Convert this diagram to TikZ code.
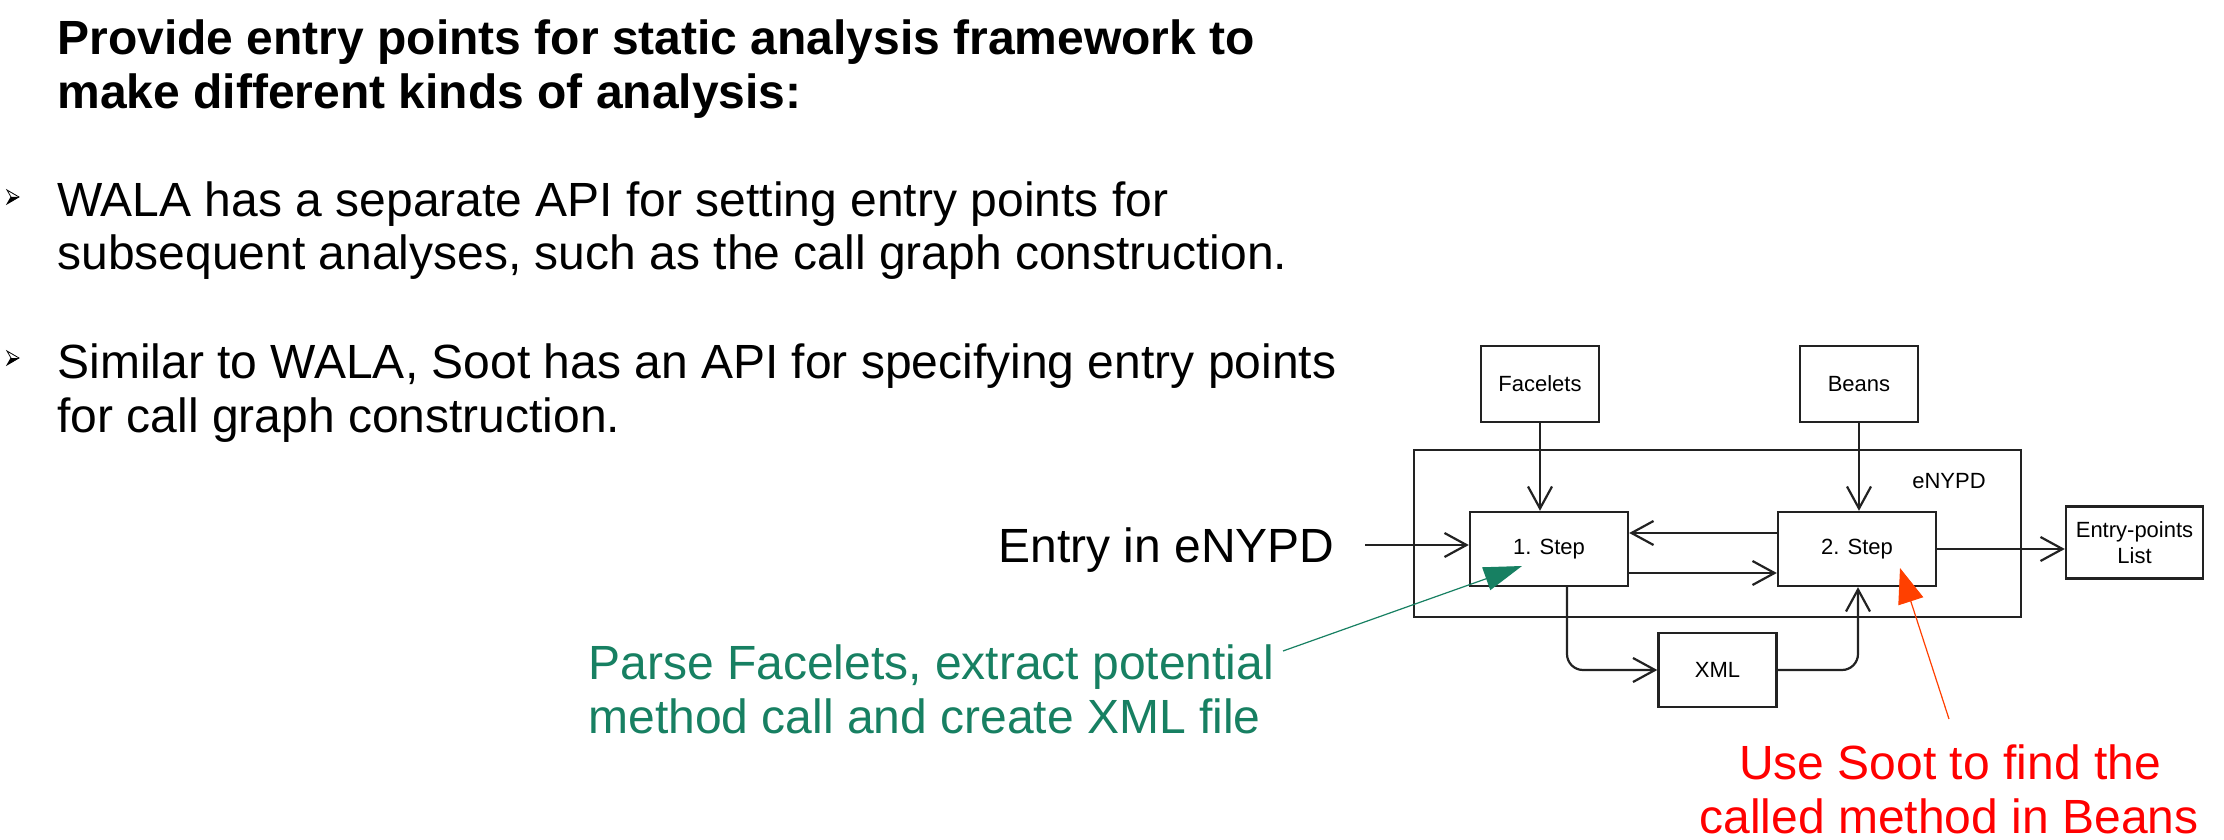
\documentclass[tikz,border=0pt]{standalone}
\usepackage{fontspec}
\setmainfont{Liberation Sans}
\usetikzlibrary{arrows.meta,calc}
\definecolor{grn}{RGB}{23,128,98}
\definecolor{redtxt}{RGB}{255,0,0}
\definecolor{redarr}{RGB}{255,64,0}
\definecolor{ln}{RGB}{34,34,34}
\begin{document}
\begin{tikzpicture}[x=0.5pt,y=-0.5pt,
  bigtext/.style={font=\fontsize{24pt}{27pt}\selectfont, anchor=base west, inner sep=0pt},
  titletext/.style={bigtext, font=\fontsize{24pt}{27pt}\selectfont\bfseries},
  box/.style={draw=ln, line width=1.2pt, fill=white, inner sep=0pt, align=center,
    font=\fontsize{11pt}{13pt}\selectfont},
  openarr/.style={draw=ln, line width=1.1pt, -{Straight Barb[length=11pt,width=12pt]}},
  bulletmark/.style={line width=0.4pt}
]
\useasboundingbox (0,0) rectangle (2224,840);
\fill[white] (0,0) rectangle (2224,840);

% left text
\node[titletext] (t1) at (57,55) {Provide entry points for static analysis framework to};
\node[titletext] (t2) at (57,109) {make different kinds of analysis:};
\node[bigtext] (b1a) at (57,216) {WALA has a separate API for setting entry points for};
\node[bigtext] (b1b) at (57,270) {subsequent analyses, such as the call graph construction.};
\node[bigtext] (b2a) at (57,378) {Similar to WALA, Soot has an API for specifying entry points};
\node[bigtext] (b2b) at (57,432) {for call graph construction.};

% bullet markers
\foreach \yy in {197,358}{
  \fill[black] (11,\yy) -- (19,\yy) -- (7,\yy+7) -- cycle;
  \draw[bulletmark] (7,\yy-7) -- (19,\yy) -- (7,\yy+7) -- (11,\yy) -- cycle;
}

\node[bigtext] (entry) at (998,562) {Entry in eNYPD};
\node[bigtext, text=grn] (g1) at (588,679) {Parse Facelets, extract potential};
\node[bigtext, text=grn] (g2) at (588,733) {method call and create XML file};
\node[bigtext, anchor=base, text=redtxt] (r1) at (1950,779) {Use Soot to find the};
\node[bigtext, anchor=base, text=redtxt] (r2) at (1949,833) {called method in Beans};

% diagram
\node[draw=ln, line width=1.2pt, minimum width=303.5pt, minimum height=83.5pt, inner sep=0pt] (enypd) at (1717.5,533.5) {};
\node[font=\fontsize{11pt}{13pt}\selectfont, inner sep=0pt] (enypdlabel) at (1949,481) {eNYPD};
\node[box, minimum width=59pt, minimum height=38pt] (facelets) at (1540,384) {Facelets};
\node[box, minimum width=59pt, minimum height=38pt] (beans) at (1859,384) {Beans};
\node[box, minimum width=79pt, minimum height=37pt] (step1) at (1549,549) {1. Step};
\node[box, minimum width=79pt, minimum height=37pt] (step2) at (1857,549) {2. Step};
\node[box, minimum width=59pt, minimum height=37pt] (xml) at (1717.5,670) {XML};
\node[box, minimum width=68.5pt, minimum height=36pt] (eplist) at (2134.5,542.5) {Entry-points\\List};

\coordinate (entrystart) at (1365,545);
\draw[openarr] (entrystart) -- (entrystart -| step1.west);
\draw[openarr] (facelets.south) -- (facelets.south |- step1.north);
\draw[openarr] (beans.south) -- (beans.south |- step2.north);
\draw[openarr] ([yshift=8pt]step2.west) -- ([yshift=8pt]step2.west -| step1.east);
\draw[openarr] ([yshift=-12pt]step1.east) -- ([yshift=-12pt]step1.east -| step2.west);
\draw[openarr] (step2.east) -- (step2.east -| eplist.west);
\draw[openarr, rounded corners=8pt] ([xshift=9pt]step1.south) |- (xml.west);
\draw[openarr, rounded corners=8pt] (xml.east) -| ([xshift=0.5pt]step2.south);

% annotation arrows
\coordinate (gstart) at (1283,651);
\coordinate (gtip) at (1522,566);
\draw[grn, line width=0.6pt, -{Triangle[length=19pt,width=12pt]}] (gstart) -- (gtip);
\coordinate (rstart) at (1949,719);
\coordinate (rtip) at (1900,568);
\draw[redarr, line width=0.6pt, -{Triangle[length=17.5pt,width=13pt]}] (rstart) -- (rtip);
\end{tikzpicture}
\end{document}
